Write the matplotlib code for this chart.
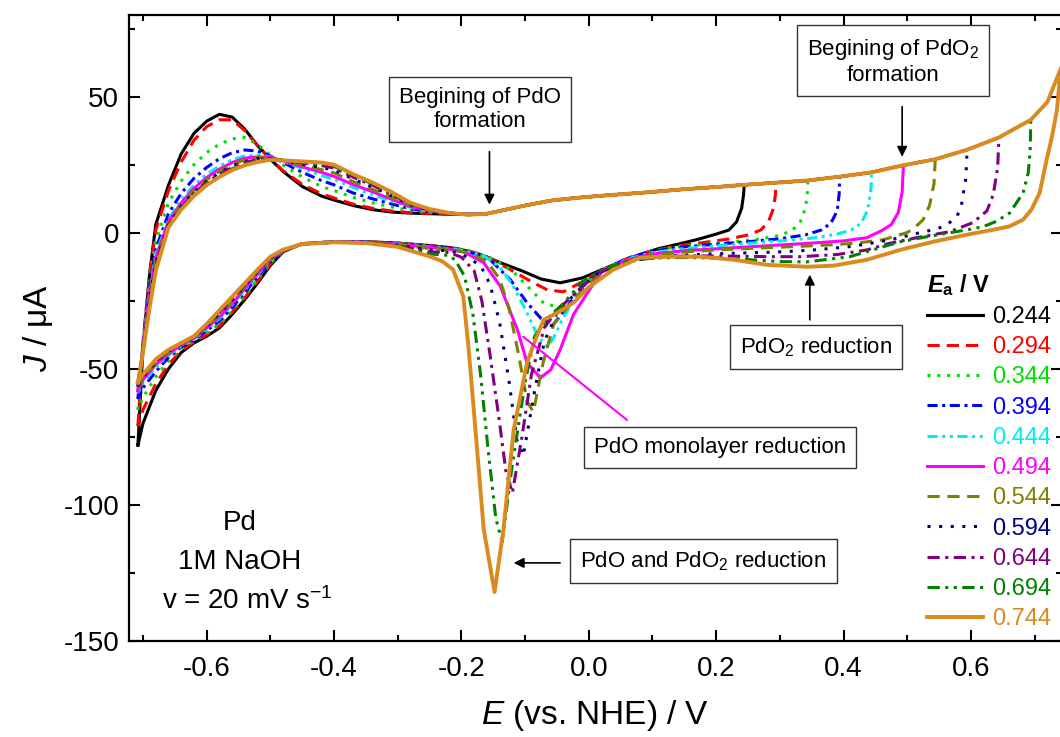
import numpy as np
import matplotlib.pyplot as plt

plt.rcParams['font.family'] = ['Liberation Sans', 'DejaVu Sans']
plt.rcParams['axes.unicode_minus'] = False
plt.rcParams['mathtext.fontset'] = 'custom'
plt.rcParams['mathtext.rm'] = 'Liberation Sans'
plt.rcParams['mathtext.it'] = 'Liberation Sans:italic'
plt.rcParams['mathtext.bf'] = 'Liberation Sans:bold'
plt.rcParams['mathtext.sf'] = 'Liberation Sans:bold:italic'
plt.rcParams['mathtext.default'] = 'regular'

# anodic limits (V)
E_a = [0.244, 0.294, 0.344, 0.394, 0.444, 0.494, 0.544, 0.594, 0.644, 0.694, 0.744]
labels = ['0.244', '0.294', '0.344', '0.394', '0.444', '0.494', '0.544', '0.594', '0.644', '0.694', '0.744']
colors = ['#000000', '#FF0000', '#00E000', '#0000FF', '#00EEEE', '#FF00FF',
          '#808000', '#000080', '#800080', '#008000', '#DA8A1E']
styles = ['-', (0, (4, 2.3)), (0, (1, 2.2)), (0, (3.3, 1.5, 1, 1.5)),
          (0, (3.3, 1.5, 1, 1.5, 1, 1.5)), '-', (0, (4, 2.5)), (0, (1, 2.8)),
          (0, (4, 1.8, 1, 1.8)), (0, (4, 1.8, 1, 1.8, 1, 1.8)), '-']

# anodic sweep, hydrogen region
E_h = [-0.708, -0.700, -0.690, -0.680, -0.660, -0.640, -0.620, -0.600, -0.580, -0.560, -0.540, -0.520,
       -0.500, -0.480, -0.450, -0.420, -0.400, -0.370, -0.340, -0.310, -0.280, -0.250, -0.220, -0.190]
J_h_244 = [-78, -42, -16, 3, 17.5, 29, 36.5, 41, 43.5, 42.5, 38, 32, 27, 22.5, 17, 13.5, 12, 10, 8.5, 7.6, 7.2, 7, 6.8, 6.8]
J_h_294 = [-71, -40, -16, 1, 15.5, 26, 34, 39, 41.5, 41.5, 37.5, 32, 27, 22.8, 17.8, 14.3, 12.8, 10.5, 9, 8, 7.4, 7.1, 6.9, 6.8]
J_h_344 = [-65, -40, -18, -3, 11, 19, 25, 29.5, 32.5, 34.5, 35, 32.5, 28.5, 24.8, 20.5, 17, 15.5, 13, 11, 9.5, 8.2, 7.6, 7.1, 6.8]
J_h_394 = [-61, -41, -20, -6, 7, 14.5, 20, 24, 27.2, 29.4, 30.4, 30, 28.2, 25.8, 22.2, 19.2, 17.6, 14.6, 12.5, 10.6, 8.8, 7.8, 7.2, 6.8]
J_h_444 = [-59, -42, -22, -8, 5, 12, 17.5, 21.5, 24.5, 26.8, 28.2, 28.5, 27.9, 26.2, 23.6, 21, 19.6, 16.6, 14, 11.6, 9.3, 8, 7.2, 6.8]
J_h_494 = [-58, -42, -23, -9, 4.2, 11, 16.3, 20.3, 23.4, 25.8, 27.4, 27.9, 27.7, 26.4, 24.2, 22.2, 20.7, 17.7, 15.1, 12.3, 9.6, 8.2, 7.2, 6.7]
J_h_544 = [-57, -43, -24, -10, 3.5, 10.2, 15.5, 19.5, 22.6, 25, 26.8, 27.6, 27.5, 26.5, 24.8, 23.2, 22, 18.8, 16, 13, 10, 8.3, 7.2, 6.7]
J_h_594 = [-56.5, -43, -25, -11, 3, 9.8, 15, 19, 22, 24.5, 26.2, 27.3, 27.3, 26.6, 25.2, 24, 23, 19.7, 16.9, 13.6, 10.2, 8.4, 7.2, 6.7]
J_h_644 = [-56, -43.5, -26, -12, 2.7, 9.3, 14.5, 18.5, 21.5, 24, 25.8, 26.9, 27.1, 26.6, 25.6, 24.7, 23.8, 20.4, 17.5, 14.1, 10.5, 8.5, 7.3, 6.6]
J_h_694 = [-55.5, -44, -27, -13, 2.3, 8.9, 14, 18, 21, 23.5, 25.3, 26.4, 26.9, 26.6, 25.9, 25.2, 24.4, 21, 18, 14.5, 10.7, 8.6, 7.3, 6.6]
J_h_744 = [-55, -44, -28, -14, 2, 8.5, 13.5, 17.5, 20.5, 23, 24.8, 26, 26.8, 26.6, 26.2, 25.8, 25, 21.5, 18.5, 15, 11, 8.7, 7.3, 6.6]

# anodic sweep, common part up to the vertex
E_up = [-0.16, -0.13, -0.10, -0.06, -0.02, 0.02, 0.06, 0.10, 0.15, 0.20, 0.244, 0.294, 0.344,
        0.394, 0.444, 0.494, 0.544, 0.594, 0.644, 0.694, 0.72, 0.744]
J_up = [7.0, 8.5, 10.0, 11.8, 12.8, 13.6, 14.3, 15.0, 16.0, 16.8, 17.6, 18.4, 19.2,
        20.6, 22.2, 24.8, 27.0, 30.5, 35.0, 41.5, 48.0, 62.0]

# cathodic sweep from vertex through the oxide reduction peaks
E_c_244 = [0.243, 0.240, 0.232, 0.220, 0.200, 0.170, 0.140, 0.110, 0.080, 0.050, 0.020, -0.010, -0.045, -0.075, -0.105, -0.139, -0.170, -0.200, -0.220]
J_c_244 = [14, 9, 4, 1, -0.5, -2.5, -4.2, -5.8, -8, -10.8, -13.6, -16.6, -18.4, -17, -14, -11, -8, -6.2, -5.4]
E_c_294 = [0.293, 0.290, 0.282, 0.270, 0.250, 0.220, 0.180, 0.140, 0.100, 0.060, 0.020, -0.010, -0.040, -0.065, -0.090, -0.123, -0.160, -0.190, -0.220]
J_c_294 = [14, 9, 4, 1, -0.8, -2.3, -3.6, -4.8, -6.6, -9.5, -13.8, -18, -21.7, -21, -18, -13.6, -8.8, -6.5, -5.4]
E_c_344 = [0.343, 0.340, 0.332, 0.320, 0.300, 0.260, 0.220, 0.180, 0.140, 0.100, 0.060, 0.020, -0.010, -0.045, -0.070, -0.095, -0.120, -0.150, -0.190, -0.220]
J_c_344 = [14, 9, 4, 1, -1, -2.6, -3.5, -4.3, -5.2, -6.6, -9.3, -13.8, -19, -27.5, -26, -20, -14, -9.6, -6.6, -5.5]
E_c_394 = [0.393, 0.390, 0.380, 0.365, 0.340, 0.300, 0.250, 0.200, 0.150, 0.100, 0.060, 0.020, -0.010, -0.035, -0.056, -0.075, -0.097, -0.123, -0.155, -0.190, -0.220]
J_c_394 = [14, 8, 3.5, 1, -0.8, -2.2, -3.3, -4.2, -5.2, -6.8, -9.4, -14, -19.5, -27.5, -33.8, -31.5, -25.7, -17.3, -9.9, -6.8, -5.6]
E_c_444 = [0.443, 0.438, 0.428, 0.412, 0.390, 0.350, 0.300, 0.250, 0.200, 0.150, 0.100, 0.060, 0.020, -0.010, -0.040, -0.055, -0.065, -0.080, -0.100, -0.120, -0.140, -0.165, -0.195, -0.220]
J_c_444 = [16, 8.5, 3.5, 1, -0.5, -2, -3, -3.9, -4.8, -5.8, -7.3, -9.7, -14.2, -20, -31, -38.5, -42, -38, -28, -19, -12.5, -8.5, -6.6, -5.8]
E_c_494 = [0.492, 0.486, 0.475, 0.460, 0.437, 0.400, 0.350, 0.300, 0.250, 0.200, 0.150, 0.100, 0.060, 0.020, -0.002, -0.024, -0.045, -0.060, -0.076, -0.097, -0.112, -0.139, -0.165, -0.195, -0.220]
J_c_494 = [15, 7.5, 3, 0.8, -1.8, -3, -3.8, -4.5, -5.2, -5.9, -6.6, -7.8, -10, -14.5, -22, -30, -43, -50.4, -53.3, -47.8, -35.7, -19.7, -11, -7.2, -6]
E_c_544 = [0.542, 0.535, 0.525, 0.510, 0.499, 0.462, 0.420, 0.384, 0.330, 0.280, 0.220, 0.160, 0.100, 0.060, 0.020, -0.005, -0.030, -0.055, -0.072, -0.087, -0.097, -0.110, -0.125, -0.140, -0.160, -0.190, -0.220]
J_c_544 = [18, 10, 4.8, 1.5, 0, -2.6, -3.8, -4.4, -5, -5.5, -6.1, -6.9, -8.2, -10.3, -14.6, -19.5, -26.5, -33.5, -48, -65.8, -62, -45, -28, -17, -10.5, -7.2, -6.2]
E_c_594 = [0.592, 0.585, 0.578, 0.560, 0.541, 0.510, 0.489, 0.450, 0.410, 0.360, 0.305, 0.250, 0.190, 0.130, 0.080, 0.040, 0.010, -0.020, -0.050, -0.070, -0.085, -0.103, -0.113, -0.125, -0.140, -0.155, -0.170, -0.200, -0.220]
J_c_594 = [20, 10, 5.9, 2.5, 1.1, -0.5, -1.8, -3.6, -5.1, -6.2, -7, -7.4, -7.8, -8.5, -9.8, -12, -15.5, -22, -29.5, -40, -58, -82, -76, -55, -33, -19, -12, -7.8, -6.6]
E_c_644 = [0.642, 0.635, 0.625, 0.603, 0.567, 0.515, 0.470, 0.437, 0.390, 0.332, 0.280, 0.227, 0.170, 0.120, 0.080, 0.040, 0.010, -0.020, -0.050, -0.070, -0.090, -0.105, -0.120, -0.130, -0.140, -0.155, -0.168, -0.180, -0.200, -0.220]
J_c_644 = [24, 14, 8, 3.7, 0.4, -1.8, -4, -6.3, -8, -8.8, -8.8, -8.6, -8.5, -8.7, -9.8, -12, -15.5, -22, -28.5, -35, -52, -75, -95.6, -88, -70, -45, -25, -14, -9, -7.2]
E_c_694 = [0.693, 0.690, 0.682, 0.661, 0.640, 0.619, 0.590, 0.567, 0.530, 0.489, 0.450, 0.410, 0.343, 0.300, 0.253, 0.200, 0.150, 0.100, 0.060, 0.020, -0.010, -0.040, -0.065, -0.085, -0.100, -0.120, -0.136, -0.146, -0.158, -0.170, -0.182, -0.195, -0.210, -0.220]
J_c_694 = [30, 22, 14.7, 7.3, 4.2, 2.2, 0.9, 0, -1.5, -3.3, -6, -8.8, -10.7, -10.6, -9.9, -9.3, -9.1, -9.3, -10.5, -13.5, -18, -26, -31.5, -38, -55, -85, -113.6, -105, -80, -52, -30, -16, -10, -8.3]
E_c_744 = [0.740, 0.735, 0.727, 0.719, 0.708, 0.695, 0.682, 0.660, 0.635, 0.594, 0.541, 0.489, 0.437, 0.384, 0.343, 0.280, 0.227, 0.175, 0.123, 0.080, 0.038, 0.000, -0.024, -0.050, -0.071, -0.085, -0.097, -0.118, -0.134, -0.148, -0.165, -0.178, -0.189, -0.197, -0.213, -0.230]
J_c_744 = [58, 45, 35, 27, 14.7, 8.5, 4.8, 2.3, 1.1, -0.7, -3.3, -6.3, -9.9, -12.1, -12.5, -11.8, -9.9, -8.8, -8.8, -9.2, -13.6, -20, -25.7, -29.5, -32, -40, -47.8, -72.4, -109, -132, -109, -72.4, -41.9, -23.5, -13.6, -10.5]

# cathodic sweep, hydrogen region back to the lower vertex
E_t = [-0.25, -0.30, -0.35, -0.40, -0.45, -0.48, -0.50, -0.52, -0.54, -0.56, -0.58, -0.60, -0.62, -0.64, -0.66, -0.68, -0.70, -0.708]
J_t_244 = [-4.7, -3.8, -3.3, -3.3, -4, -7, -12, -18.5, -24.5, -30, -35, -38, -40.5, -44, -50, -58, -70, -78]
J_t_294 = [-4.8, -3.8, -3.3, -3.3, -4, -6.8, -11.5, -17.8, -23.8, -29.2, -34.2, -37.5, -40.2, -43.2, -48.5, -55.5, -65, -71]
J_t_344 = [-4.9, -3.9, -3.4, -3.3, -4, -6.6, -11, -17, -23, -28.5, -33.5, -36.8, -39.8, -42.5, -47, -53, -60.5, -65]
J_t_394 = [-5.0, -4.0, -3.4, -3.3, -4.1, -6.5, -10.5, -16.2, -22, -27.5, -32.5, -36, -39.4, -42, -45.8, -51, -57, -61]
J_t_444 = [-5.2, -4.1, -3.5, -3.4, -4.1, -6.4, -10, -15.5, -21, -26.5, -31.5, -35.5, -39, -41.6, -45, -49.5, -55, -59]
J_t_494 = [-5.4, -4.2, -3.5, -3.4, -4.1, -6.4, -9.8, -15, -20.5, -26, -31, -35, -38.8, -41.3, -44.5, -48.5, -54, -58]
J_t_544 = [-5.8, -4.4, -3.6, -3.4, -4.1, -6.3, -9.5, -14.5, -20, -25.3, -30.3, -34.6, -38.6, -41, -44, -48, -53.5, -57]
J_t_594 = [-6.3, -4.6, -3.7, -3.5, -4.2, -6.3, -9.3, -14.2, -19.5, -24.8, -29.8, -34.3, -38.4, -40.8, -43.6, -47.5, -53, -56.5]
J_t_644 = [-7, -4.8, -3.7, -3.5, -4.2, -6.3, -9.1, -14, -19.2, -24.3, -29.3, -34, -38.2, -40.7, -43.4, -47.2, -52.5, -56]
J_t_694 = [-7.8, -5, -3.8, -3.5, -4.2, -6.2, -9, -13.8, -18.8, -23.9, -28.9, -33.7, -38.1, -40.6, -43.2, -46.8, -52.2, -55.5]
J_t_744 = [-8.7, -5.2, -3.8, -3.5, -4.2, -6.2, -8.8, -13.5, -18.5, -23.5, -28.5, -33.5, -38, -40.5, -43, -46.5, -52, -55]

J_h = [J_h_244, J_h_294, J_h_344, J_h_394, J_h_444, J_h_494, J_h_544, J_h_594, J_h_644, J_h_694, J_h_744]
E_c = [E_c_244, E_c_294, E_c_344, E_c_394, E_c_444, E_c_494, E_c_544, E_c_594, E_c_644, E_c_694, E_c_744]
J_c = [J_c_244, J_c_294, J_c_344, J_c_394, J_c_444, J_c_494, J_c_544, J_c_594, J_c_644, J_c_694, J_c_744]
J_t = [J_t_244, J_t_294, J_t_344, J_t_394, J_t_444, J_t_494, J_t_544, J_t_594, J_t_644, J_t_694, J_t_744]

fig = plt.figure(figsize=(10.6, 7.37), dpi=100)
ax = fig.add_axes([129/1060, 96/737, 933/1060, 626/737])

E_up_arr = np.array(E_up)
J_up_arr = np.array(J_up)
for i in range(len(E_a)):
    keep = E_up_arr <= E_a[i] + 1e-6
    E = np.concatenate([E_h, E_up_arr[keep], E_c[i], E_t])
    J = np.concatenate([J_h[i], J_up_arr[keep], J_c[i], J_t[i]])
    lw = 2.8 if i == 10 else 2.2
    ax.plot(E, J, color=colors[i], ls=styles[i], lw=lw, label=labels[i])

ax.set_xlim(-0.722, 0.743)
ax.set_ylim(-150, 80)
ax.set_xticks([-0.6, -0.4, -0.2, 0.0, 0.2, 0.4, 0.6])
ax.set_xticks(np.arange(-0.7, 0.75, 0.1), minor=True)
ax.set_yticks([-150, -100, -50, 0, 50])
ax.set_yticks([-125, -75, -25, 25, 75], minor=True)
ax.xaxis.set_major_formatter(plt.FormatStrFormatter('%.1f'))
ax.tick_params(which='both', direction='in', top=True, right=True, width=1.5, labelsize=20)
ax.tick_params(axis='x', pad=11)
ax.tick_params(axis='y', pad=7)
ax.tick_params(which='major', length=8)
ax.tick_params(which='minor', length=4.5)
for s in ax.spines.values():
    s.set_linewidth(1.6)

ax.set_xlabel(r'$\mathit{E}$ (vs. NHE) / V', fontsize=24, labelpad=11)
ax.set_ylabel(r'$\mathit{J}$ / μA', fontsize=24, labelpad=6)

leg = ax.legend(loc='upper left', bbox_to_anchor=(0.855, 0.59), frameon=False,
                fontsize=17, labelcolor='linecolor', handlelength=2.4, handletextpad=0.35,
                labelspacing=0.35, borderpad=0, borderaxespad=0,
                title=r'$\mathsf{E}_\mathbf{a}$ / V', alignment='left',
                title_fontproperties={'size': 17, 'weight': 'bold'})

box = dict(boxstyle='square,pad=0.45', fc='white', ec='#333333', lw=1)
arrow = dict(arrowstyle='-|>', color='black', lw=1.2, mutation_scale=15, shrinkA=0, shrinkB=0)

ax.text(-0.171, 45.2, 'Begining of PdO\nformation', ha='center', va='center', fontsize=16, bbox=box)
ax.annotate('', xy=(-0.156, 10.3), xytext=(-0.156, 29.8), arrowprops=arrow)

ax.text(0.478, 62.9, 'Begining of PdO$_2$\nformation', ha='center', va='center', fontsize=16, bbox=box)
ax.annotate('', xy=(0.492, 27.9), xytext=(0.492, 46.3), arrowprops=arrow)

ax.text(0.357, -41.9, 'PdO$_2$ reduction', ha='center', va='center', fontsize=16, bbox=box)
ax.annotate('', xy=(0.347, -15.4), xytext=(0.347, -32), arrowprops=arrow)

ax.text(0.206, -79, 'PdO monolayer reduction', ha='center', va='center', fontsize=16, bbox=box)
ax.annotate('', xy=(-0.103, -38.2), xytext=(0.06, -68.8),
            arrowprops=dict(arrowstyle='-', color='#FF00FF', lw=1.5, shrinkA=0, shrinkB=0))

ax.text(0.18, -120.6, 'PdO and PdO$_2$ reduction', ha='center', va='center', fontsize=16, bbox=box)
ax.annotate('', xy=(-0.118, -121.3), xytext=(-0.045, -121.3), arrowprops=arrow)

ax.text(-0.548, -106.5, 'Pd', ha='center', va='center', fontsize=20)
ax.text(-0.548, -120.8, '1M NaOH', ha='center', va='center', fontsize=20)
ax.text(-0.536, -135.2, 'v = 20 mV s$^{-1}$', ha='center', va='center', fontsize=20)

fig.savefig('out.png', dpi=100)
